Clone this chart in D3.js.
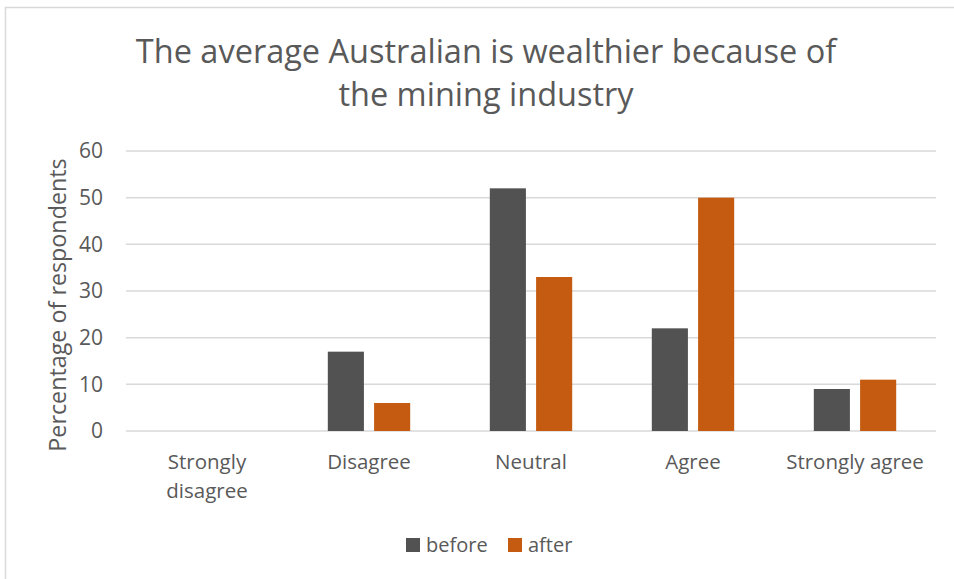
<!DOCTYPE html>
<html>
<head>
<meta charset="utf-8">
<script src="https://cdn.jsdelivr.net/npm/d3@7"></script>
<style>
  body { margin: 0; background: #fff; }
  svg text { font-family: "Open Sans", "Noto Sans", sans-serif; fill: #595959; }
</style>
</head>
<body>
<svg id="chart" width="954" height="579"></svg>
<script>
// chart data
var categories = ["Strongly disagree", "Disagree", "Neutral", "Agree", "Strongly agree"];
var seriesNames = ["before", "after"];
var beforeValues = [0, 17, 52, 22, 9];
var afterValues = [0, 6, 33, 50, 11];
var yTicks = [0, 10, 20, 30, 40, 50, 60];
var titleLines = ["The average Australian is wealthier because of", "the mining industry"];

var colors = { before: "#525252", after: "#c55a11" };

var svg = d3.select("#chart");

// outer frame (right and bottom edge run off the picture)
svg.append("rect")
  .attr("x", 5.5).attr("y", 7.5)
  .attr("width", 1000).attr("height", 1000)
  .attr("fill", "none")
  .attr("stroke", "#d9d9d9")
  .attr("stroke-width", 1.5);

var margin = { top: 151, left: 126, bottom: 431, right: 936 };

var x0 = d3.scaleBand()
  .domain(categories)
  .range([margin.left, margin.right]);

var x1 = d3.scaleBand()
  .domain(seriesNames)
  .range([0, x0.bandwidth()])
  .paddingInner(0.22)
  .paddingOuter(0.86);

var y = d3.scaleLinear()
  .domain([0, 60])
  .range([margin.bottom, margin.top]);

// gridlines
svg.append("g").selectAll("line")
  .data(yTicks)
  .enter().append("line")
  .attr("x1", margin.left).attr("x2", margin.right)
  .attr("y1", d => y(d)).attr("y2", d => y(d))
  .attr("stroke", "#d9d9d9")
  .attr("stroke-width", 1.5);

// y tick labels
var yAxis = svg.append("g")
  .attr("transform", `translate(${margin.left},0)`)
  .call(d3.axisLeft(y).tickValues(yTicks).tickSize(0).tickPadding(23));
yAxis.select(".domain").remove();
yAxis.selectAll("text")
  .attr("font-size", 21)
  .attr("fill", "#595959")
  .attr("font-family", "'Open Sans', sans-serif");

// bars
var rows = categories.map((c, i) => ({ cat: c, before: beforeValues[i], after: afterValues[i] }));

var groups = svg.append("g").selectAll("g")
  .data(rows)
  .enter().append("g")
  .attr("transform", d => `translate(${x0(d.cat)},0)`);

groups.selectAll("rect")
  .data(d => seriesNames.map(k => ({ key: k, value: d[k] })))
  .enter().append("rect")
  .filter(d => d.value > 0)
  .attr("x", d => x1(d.key))
  .attr("width", x1.bandwidth())
  .attr("y", d => y(d.value))
  .attr("height", d => y(0) - y(d.value))
  .attr("fill", d => colors[d.key]);

// category labels
var catLabels = svg.append("g").selectAll("text")
  .data(categories)
  .enter().append("text")
  .attr("text-anchor", "middle")
  .attr("font-size", 20.5)
  .attr("x", d => x0(d) + x0.bandwidth() / 2)
  .attr("y", 469);

catLabels.each(function (d) {
  var t = d3.select(this);
  var lines = d == "Strongly disagree" ? ["Strongly", "disagree"] : [d];
  lines.forEach(function (line, i) {
    t.append("tspan")
      .attr("x", x0(d) + x0.bandwidth() / 2)
      .attr("dy", i == 0 ? 0 : 29)
      .text(line);
  });
});

// y axis title
svg.append("text")
  .attr("transform", "translate(66,305) rotate(-90)")
  .attr("text-anchor", "middle")
  .attr("font-size", 23.3)
  .text("Percentage of respondents");

// title
svg.append("g").selectAll("text")
  .data(titleLines)
  .enter().append("text")
  .attr("text-anchor", "middle")
  .attr("x", 486)
  .attr("y", (d, i) => 63 + i * 43)
  .attr("font-size", 32.5)
  .text(d => d);

// legend
var legendItems = [
  { key: "before", x: 406 },
  { key: "after", x: 508 }
];

var legend = svg.append("g").selectAll("g")
  .data(legendItems)
  .enter().append("g")
  .attr("transform", d => `translate(${d.x},538)`);

legend.append("rect")
  .attr("width", 14)
  .attr("height", 14)
  .attr("fill", d => colors[d.key]);

legend.append("text")
  .attr("x", 20)
  .attr("y", 14)
  .attr("font-size", 20)
  .text(d => d.key);
</script>
</body>
</html>
